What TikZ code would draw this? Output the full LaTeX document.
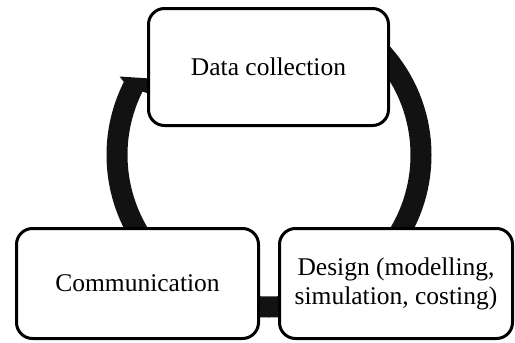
\documentclass[tikz,border=0pt]{standalone}
\usepackage{fontspec}
\setmainfont{Liberation Serif}
\usetikzlibrary{calc}
\begin{document}
\begin{tikzpicture}[x=1pt,y=-1pt,
  stagebox/.style={draw=black, line width=3pt, fill=white, rounded corners=16pt,
    align=center, inner sep=0pt, font=\fontsize{25.5}{29}\selectfont},
  ringband/.style={draw=black!93, line width=21pt}]
\useasboundingbox (0,0) rectangle (515,343);

% centre of the cycle ring
\coordinate (ringc) at (269,155);

% thick ring running clockwise from behind the top box round to the left
\draw[ringband] ($(ringc)+(45:152pt)$) arc[start angle=45, end angle=-208, radius=152pt];
% flared arrow end sliding in behind the top box
\fill[black!93] (119.5,76.5) -- (150,78.5) -- (150,94) -- (128,87) -- cycle;

% the three stages
\node[stagebox, minimum width=240pt, minimum height=117pt] (data) at (268.5,67) {Data collection};
\node[stagebox, minimum width=242pt, minimum height=110pt] (comm) at (137.5,283.5) {Communication};
\node[stagebox, minimum width=233pt, minimum height=110pt] (design) at (396,283.5) {Design (modelling,\\ simulation, costing)};
\end{tikzpicture}
\end{document}
